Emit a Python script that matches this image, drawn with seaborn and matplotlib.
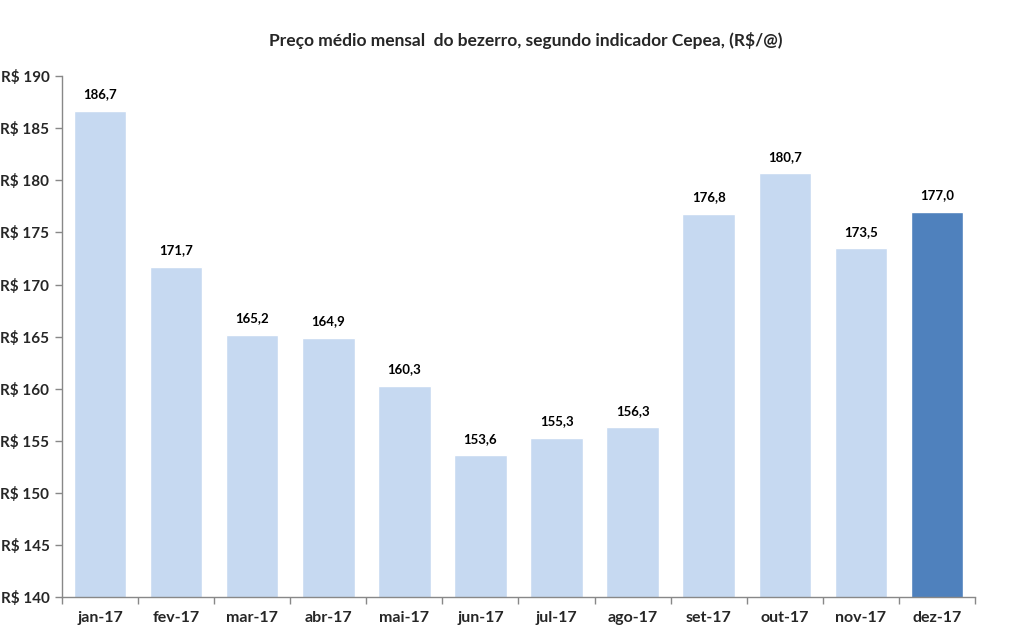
import numpy as np
import pandas as pd
import matplotlib.pyplot as plt
import seaborn as sns

sns.set_theme(style="white")
plt.rcParams["font.family"] = ["Lato", "DejaVu Sans"]

meses = ["jan-17", "fev-17", "mar-17", "abr-17", "mai-17", "jun-17",
         "jul-17", "ago-17", "set-17", "out-17", "nov-17", "dez-17"]
precos = [186.7, 171.7, 165.2, 164.9, 160.3, 153.6,
          155.3, 156.3, 176.8, 180.7, 173.5, 177.0]

df = pd.DataFrame({"mes": meses, "preco": precos})
cores = ["#C6D9F1"] * 11 + ["#4F81BD"]

fig = plt.figure(figsize=(10.11, 6.3), dpi=100)
ax = fig.add_axes([0.0613, 0.0524, 0.9031, 0.8266])

sns.barplot(data=df, x="mes", y="preco", hue="mes", palette=cores,
            legend=False, width=0.69, saturation=1, ax=ax)

ax.set_ylim(140, 190)
ax.set_xlim(-0.5, 11.5)
ax.set_yticks(np.arange(140, 191, 5))
ax.set_yticklabels([f"R$ {v}" for v in range(140, 191, 5)],
                   fontsize=11, fontweight="bold")

# rótulos no centro, marcas nas divisas
ax.set_xticks(np.arange(-0.5, 12, 1))
ax.set_xticklabels([])
ax.set_xticks(np.arange(12), minor=True)
ax.set_xticklabels(meses, minor=True, fontsize=11.5, fontweight="bold")
ax.tick_params(axis="x", which="minor", length=0, pad=10)
ax.tick_params(axis="x", which="major", length=5, width=1, color="#888888",
               direction="out", bottom=True)
ax.tick_params(axis="y", length=5, width=1, color="#888888",
               direction="out", left=True, pad=4)

for s in ["top", "right"]:
    ax.spines[s].set_visible(False)
for s in ["left", "bottom"]:
    ax.spines[s].set_color("#888888")
    ax.spines[s].set_linewidth(1)

ax.set_xlabel("")
ax.set_ylabel("")

for i, v in enumerate(precos):
    ax.text(i, v + 1.0, f"{v:.1f}".replace(".", ","), ha="center",
            va="bottom", fontsize=9.5, fontweight="bold", color="black")

fig.text(0.52, 0.935, "Preço médio mensal  do bezerro, segundo indicador Cepea, (R$/@)",
         ha="center", va="center", fontsize=12.5, fontweight="bold")

fig.savefig("out.png", dpi=100, facecolor="white")
